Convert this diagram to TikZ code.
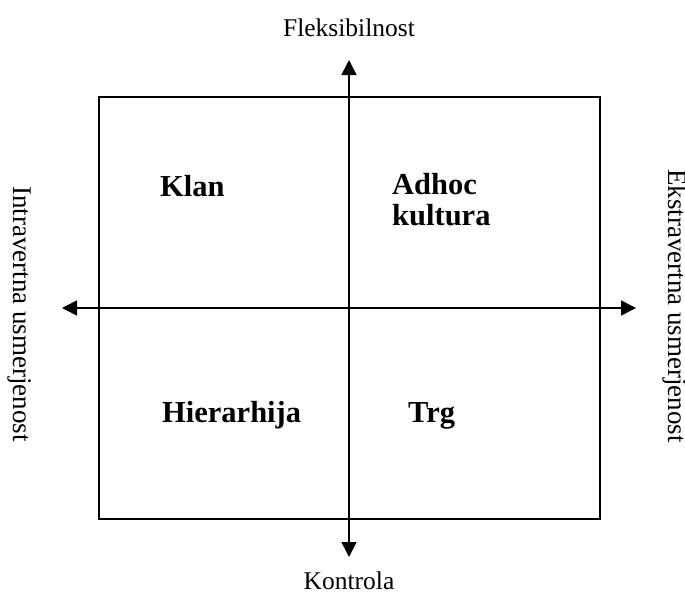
\documentclass[tikz,border=0pt]{standalone}
\usepackage{fontspec}
\setmainfont{Liberation Serif}
\usetikzlibrary{arrows.meta}
\tikzset{
  axis/.style={line width=1.6pt, {Triangle[length=15pt,width=15pt]}-{Triangle[length=15pt,width=15pt]}},
  frame/.style={line width=1.6pt},
  quad/.style={inner sep=0pt, anchor=base west, font=\fontsize{30.5}{31}\selectfont\bfseries, align=left},
  lbl/.style={inner sep=0pt, anchor=base, font=\fontsize{25.5}{30}\selectfont},
  sidelbl/.style={inner sep=0pt, anchor=base, rotate=-90, font=\fontsize{27}{30}\selectfont}
}
\begin{document}
\begin{tikzpicture}[x=1pt,y=-1pt]
\useasboundingbox (0,0) rectangle (685,594);
\draw[frame] (99,97) rectangle (600,519);
\coordinate (top) at (349,60);
\coordinate (bot) at (349,557);
\coordinate (lft) at (62,308);
\coordinate (rgt) at (636,308);
\draw[axis] (bot) -- (top);
\draw[axis] (lft) -- (rgt);
\node[lbl] (flex) at (349,37) {Fleksibilnost};
\node[lbl] (kon) at (349,589) {Kontrola};
\node[sidelbl] (intra) at (13,314) {Intravertna usmerjenost};
\node[sidelbl] (ekstra) at (668,306) {Ekstravertna usmerjenost};
\node[quad] (klan) at (160,196) {Klan};
\node[quad] (adhoc) at (392,225) {Adhoc\\kultura};
\node[quad] (hier) at (162,422) {Hierarhija};
\node[quad] (trg) at (408,422) {Trg};
\end{tikzpicture}
\end{document}
